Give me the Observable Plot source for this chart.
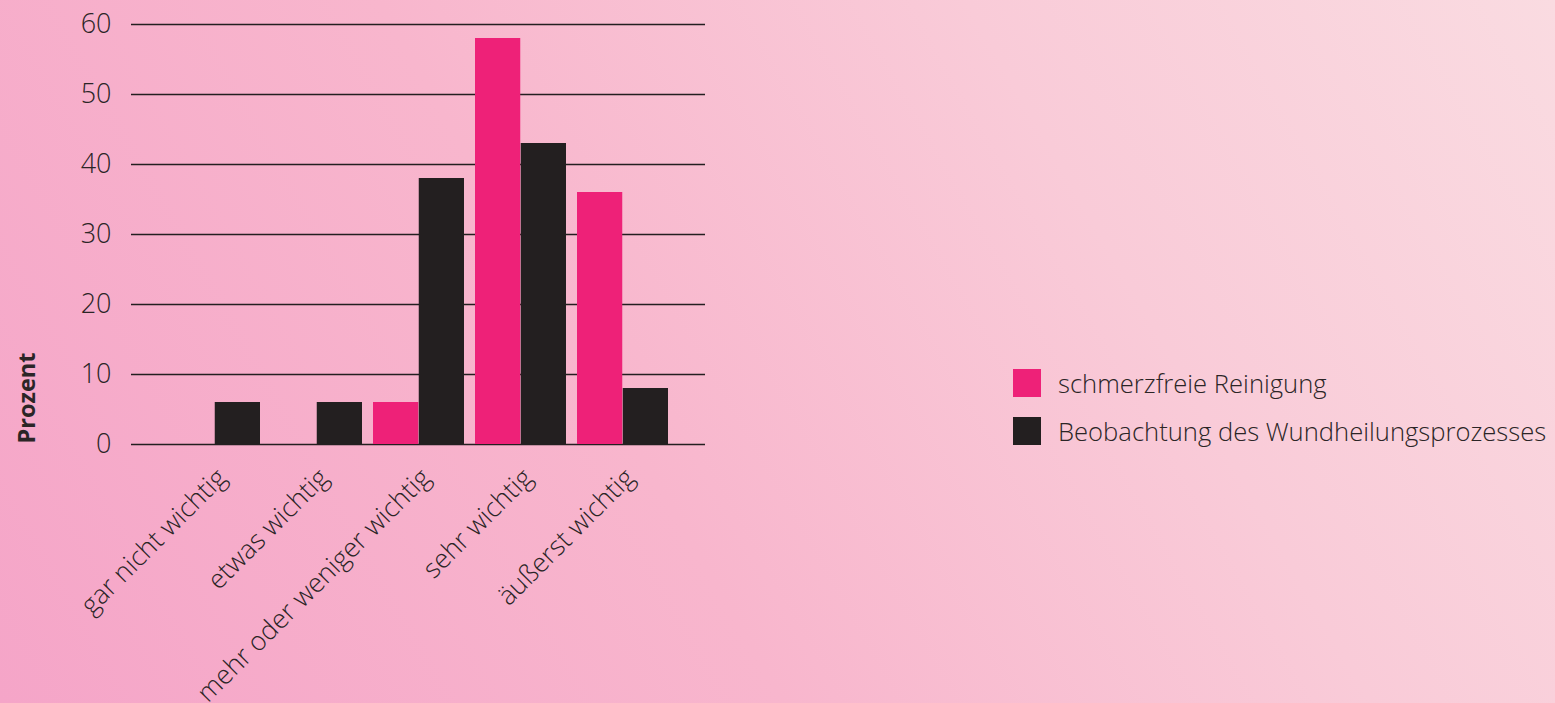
<!DOCTYPE html>
<html>
<head>
<meta charset="utf-8">
<script src="https://cdn.jsdelivr.net/npm/d3@7"></script>
<script src="https://cdn.jsdelivr.net/npm/@observablehq/plot@0.6"></script>
<style>
  html, body { margin: 0; padding: 0; }
  body {
    width: 1555px; height: 703px; overflow: hidden; position: relative;
    background: linear-gradient(60deg, #f5a5c8 0%, #f8b6cd 40%, #f9cbd8 70%, #fadbe1 100%);
    font-family: "Open Sans", sans-serif;
  }
  #chart { position: absolute; left: 0; top: 0; }
  #legend { position: absolute; left: 1013px; top: 369px; color: #2b2526; font-size: 25.6px; font-weight: 300; }
  .item { display: flex; align-items: center; height: 28px; margin-bottom: 20px; white-space: nowrap; }
  .sw { width: 28px; height: 28px; margin-right: 17px; flex: none; }
</style>
</head>
<body>
<div id="chart"></div>
<div id="legend"></div>
<script>
const categories = ["gar nicht wichtig", "etwas wichtig", "mehr oder weniger wichtig", "sehr wichtig", "äußerst wichtig"];
const seriesNames = ["schmerzfreie Reinigung", "Beobachtung des Wundheilungsprozesses"];
const schmerzfrei = [0, 0, 6, 58, 36];
const beobachtung = [6, 6, 38, 43, 8];
const yTicks = [0, 10, 20, 30, 40, 50, 60];
const colors = ["#ee2178", "#231f20"];

const dataA = categories.map((c, i) => ({cat: c, value: schmerzfrei[i]}));
const dataB = categories.map((c, i) => ({cat: c, value: beobachtung[i]}));

const textColor = "#2b2526";
const half = 45.75;

const plot = Plot.plot({
  width: 1555,
  height: 703,
  marginLeft: 131,
  marginRight: 850,
  marginTop: 24,
  marginBottom: 259,
  style: {background: "transparent", fontFamily: "'Open Sans', sans-serif", color: textColor, overflow: "visible"},
  x: {domain: categories, range: [131.5, 706.5], paddingInner: 0.107, paddingOuter: 0.358, label: null},
  y: {domain: [0, 60], label: null},
  marks: [
    Plot.ruleY(yTicks, {stroke: "#231f20", strokeWidth: 1.3}),
    Plot.barY(dataA.filter(d => d.value > 0), {x: "cat", y: "value", fill: colors[0], insetRight: half}),
    Plot.barY(dataB, {x: "cat", y: "value", fill: colors[1], insetLeft: half}),
    Plot.axisY({ticks: yTicks, tickSize: 0, tickPadding: 20, fontSize: 27, fontWeight: 300, label: null}),
    Plot.axisX({tickSize: 0, tickRotate: -45, tickPadding: 14, dx: 7, dy: 15, fontSize: 26.5, fontWeight: 300, label: null}),
    Plot.text(["Prozent"], {frameAnchor: "bottom-left", dx: -104, dy: -1, rotate: -90, textAnchor: "start", lineAnchor: "middle", fontSize: 23.5, fontWeight: "bold", fill: textColor})
  ]
});
document.getElementById("chart").appendChild(plot);

const legend = document.getElementById("legend");
seriesNames.forEach((name, i) => {
  const item = document.createElement("div");
  item.className = "item";
  const sw = document.createElement("div");
  sw.className = "sw";
  sw.style.background = colors[i];
  const label = document.createElement("span");
  label.textContent = name;
  item.appendChild(sw);
  item.appendChild(label);
  legend.appendChild(item);
});
</script>
</body>
</html>
